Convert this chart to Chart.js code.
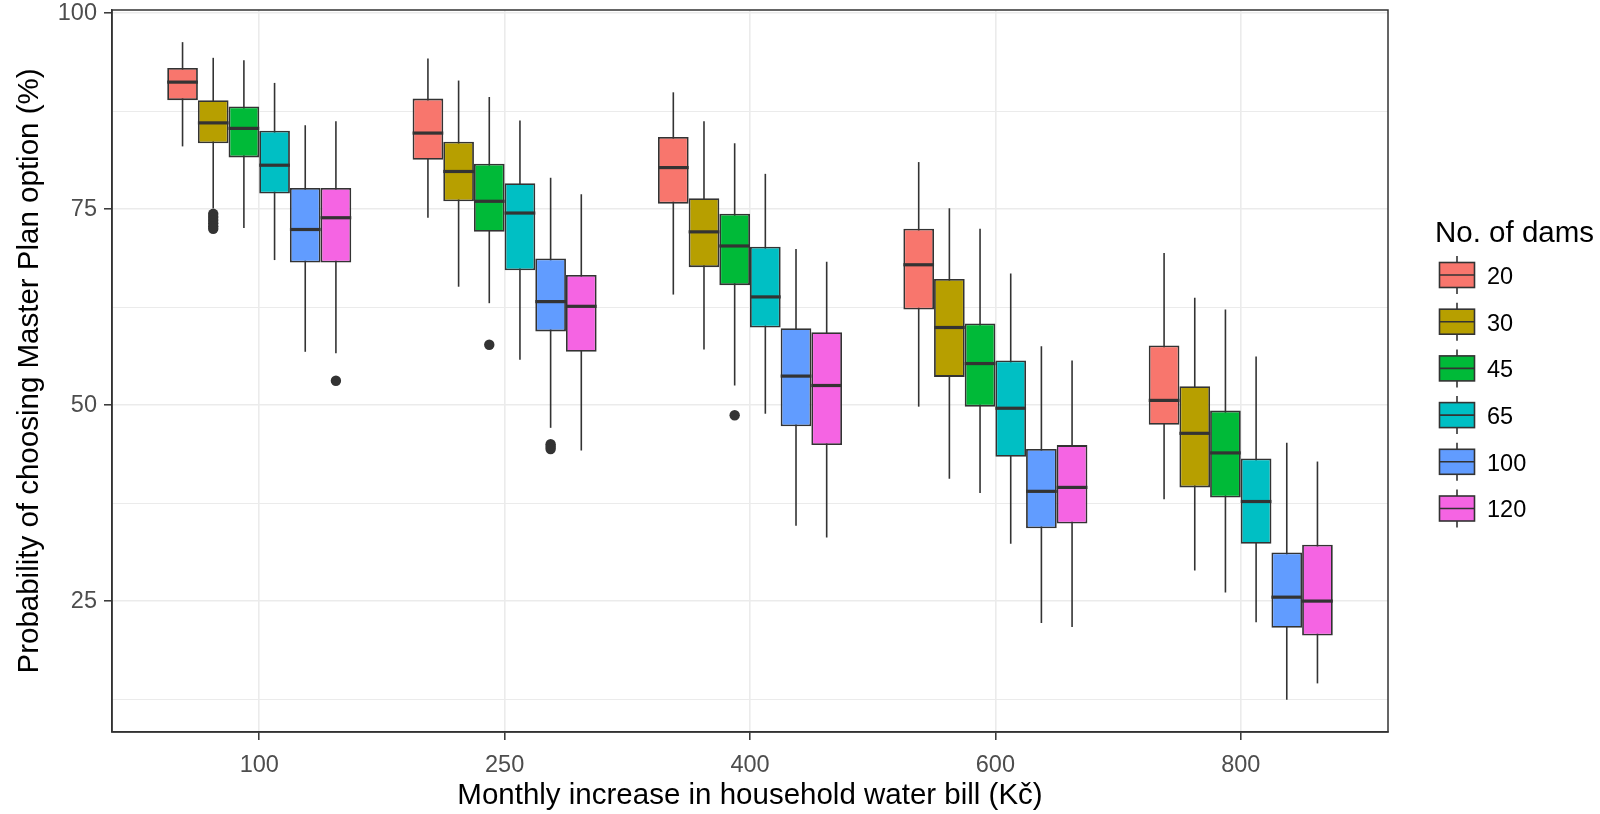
<!DOCTYPE html>
<html>
<head>
<meta charset="utf-8">
<script src="https://cdn.jsdelivr.net/npm/chart.js@4.4.1/dist/chart.umd.min.js"></script>
<style>
html, body { margin: 0; padding: 0; background: #ffffff; }
#wrap { width: 1600px; height: 814px; }
</style>
</head>
<body>
<div id="wrap"><canvas id="graphCanvas"></canvas></div>
<script>
// categories: monthly increase in water bill (Kč), and number of dams (series)
const bills = ['100', '250', '400', '600', '800'];
const dams = ['20', '30', '45', '65', '100', '120'];
const damColors = ['#F8766D', '#B79F00', '#00BA38', '#00BFC4', '#619CFF', '#F564E3'];
const yTicks = [12.5, 25, 37.5, 50, 62.5, 75, 87.5, 100];

// one row per dam count, one column per bill value
const whiskerHigh = [
    [96.3, 94.2, 89.9, 81.0, 69.4],
    [94.3, 91.4, 86.2, 75.1, 63.7],
    [94.0, 89.3, 83.4, 72.5, 62.2],
    [91.1, 86.3, 79.5, 66.8, 56.2],
    [85.7, 79.0, 69.9, 57.5, 45.2],
    [86.2, 76.9, 68.3, 55.7, 42.8]
];
const boxHigh = [
    [93.0, 89.1, 84.2, 72.5, 57.6],
    [88.9, 83.6, 76.4, 66.1, 52.4],
    [88.1, 80.8, 74.4, 60.4, 49.3],
    [85.0, 78.3, 70.2, 55.7, 43.2],
    [77.7, 68.7, 59.8, 44.4, 31.2],
    [77.7, 66.6, 59.3, 44.9, 32.2]
];
const medians = [
    [91.2, 84.7, 80.3, 67.9, 50.6],
    [86.0, 79.8, 72.1, 59.9, 46.4],
    [85.3, 76.0, 70.3, 55.3, 43.9],
    [80.6, 74.5, 63.8, 49.6, 37.7],
    [72.4, 63.2, 53.7, 39.0, 25.5],
    [73.9, 62.6, 52.5, 39.5, 25.0]
];
const boxLow = [
    [88.9, 81.3, 75.7, 62.2, 47.5],
    [83.4, 76.0, 67.6, 53.6, 39.5],
    [81.6, 72.1, 65.3, 49.8, 38.2],
    [77.0, 67.2, 59.9, 43.4, 32.3],
    [68.2, 59.4, 47.3, 34.3, 21.6],
    [68.2, 56.8, 44.9, 34.9, 20.6]
];
const whiskerLow = [
    [83.0, 73.9, 64.1, 49.8, 38.0],
    [75.1, 65.1, 57.1, 40.6, 28.9],
    [72.6, 63.0, 52.5, 38.8, 26.1],
    [68.5, 55.8, 48.9, 32.3, 22.3],
    [56.8, 47.1, 34.6, 22.2, 12.4],
    [56.6, 44.2, 33.1, 21.7, 14.5]
];
const outliers = [
    [[], [], [], [], []],
    [[74.4, 74.0, 73.6, 73.2, 72.8, 72.5], [], [], [], []],
    [[], [57.7], [48.7], [], []],
    [[], [], [], [], []],
    [[], [45.0, 44.7, 44.4], [], [], []],
    [[53.1], [], [], [], []]
];

Chart.defaults.font.family = "'Liberation Sans', Arial, Helvetica, sans-serif";

const lineCol = '#333333';

// whiskers behind the boxes, medians + outliers + panel border on top
const boxPlotParts = {
    id: 'boxPlotParts',
    beforeDatasetsDraw(chart) {
        const ctx = chart.ctx;
        const y = chart.scales.y;
        ctx.save();
        ctx.strokeStyle = lineCol;
        ctx.lineWidth = 1.6;
        chart.data.datasets.forEach((ds, i) => {
            chart.getDatasetMeta(i).data.forEach((bar, j) => {
                ctx.beginPath();
                ctx.moveTo(bar.x, y.getPixelForValue(whiskerLow[i][j]));
                ctx.lineTo(bar.x, y.getPixelForValue(whiskerHigh[i][j]));
                ctx.stroke();
            });
        });
        ctx.restore();
    },
    afterDatasetsDraw(chart) {
        const ctx = chart.ctx;
        const y = chart.scales.y;
        const area = chart.chartArea;
        ctx.save();
        chart.data.datasets.forEach((ds, i) => {
            chart.getDatasetMeta(i).data.forEach((bar, j) => {
                const py = y.getPixelForValue(medians[i][j]);
                ctx.strokeStyle = lineCol;
                ctx.lineWidth = 3.2;
                ctx.beginPath();
                ctx.moveTo(bar.x - bar.width / 2, py);
                ctx.lineTo(bar.x + bar.width / 2, py);
                ctx.stroke();
                ctx.fillStyle = lineCol;
                outliers[i][j].forEach(v => {
                    ctx.beginPath();
                    ctx.arc(bar.x, y.getPixelForValue(v), 5.2, 0, Math.PI * 2);
                    ctx.fill();
                });
            });
        });
        ctx.strokeStyle = lineCol;
        ctx.lineWidth = 1.5;
        ctx.strokeRect(area.left, area.top, area.right - area.left, area.bottom - area.top);
        ctx.restore();
    },
    afterDraw(chart) {
        // legend: "No. of dams" with small box glyphs
        const ctx = chart.ctx;
        ctx.save();
        ctx.fillStyle = '#000000';
        ctx.textAlign = 'left';
        ctx.textBaseline = 'middle';
        ctx.font = "29.5px 'Liberation Sans', Arial, sans-serif";
        ctx.fillText('No. of dams', 1435, 234);
        ctx.font = "23.5px 'Liberation Sans', Arial, sans-serif";
        chart.data.datasets.forEach((ds, i) => {
            const cy = 275 + i * 46.7;
            const cx = 1457;
            ctx.strokeStyle = lineCol;
            ctx.lineWidth = 1.6;
            ctx.beginPath();
            ctx.moveTo(cx, cy - 19);
            ctx.lineTo(cx, cy + 19);
            ctx.stroke();
            ctx.fillStyle = ds.backgroundColor;
            ctx.fillRect(cx - 17.5, cy - 12.5, 35, 25);
            ctx.strokeRect(cx - 17.5, cy - 12.5, 35, 25);
            ctx.beginPath();
            ctx.moveTo(cx - 17.5, cy);
            ctx.lineTo(cx + 17.5, cy);
            ctx.stroke();
            ctx.fillStyle = '#000000';
            ctx.fillText(ds.label, 1487, cy + 2.5);
        });
        ctx.restore();
    }
};

function showGraph() {
    const datasets = dams.map((d, i) => ({
        label: d,
        backgroundColor: damColors[i],
        borderColor: lineCol,
        borderWidth: 1.8,
        borderSkipped: false,
        data: bills.map((b, j) => ({ x: j + 1, y: [boxLow[i][j], boxHigh[i][j]] }))
    }));

    new Chart(document.getElementById('graphCanvas'), {
        type: 'bar',
        data: { datasets: datasets },
        plugins: [boxPlotParts],
        options: {
            responsive: true,
            maintainAspectRatio: false,
            animation: false,
            devicePixelRatio: 1,
            categoryPercentage: 0.75,
            barPercentage: 1.0,
            layout: { padding: { top: 10, right: 212, bottom: 0, left: 0 } },
            plugins: {
                legend: { display: false },
                tooltip: { enabled: false }
            },
            scales: {
                x: {
                    type: 'linear',
                    min: 0.4,
                    max: 5.6,
                    offset: false,
                    afterBuildTicks: scale => { scale.ticks = bills.map((b, j) => ({ value: j + 1 })); },
                    afterFit: scale => { scale.height = 82; scale.paddingLeft = 0; scale.paddingRight = 0; },
                    ticks: {
                        callback: (v, idx) => bills[idx],
                        color: '#4D4D4D',
                        font: { size: 23.5 },
                        padding: 11,
                        autoSkip: false,
                        maxRotation: 0
                    },
                    grid: {
                        offset: false,
                        color: '#EBEBEB',
                        lineWidth: 1.6,
                        tickLength: 8,
                        tickColor: lineCol,
                        tickWidth: 1.5
                    },
                    border: { display: true, color: lineCol, width: 1.5 },
                    title: {
                        display: true,
                        text: 'Monthly increase in household water bill (Kč)',
                        color: '#000000',
                        font: { size: 29.5 },
                        padding: { top: 0, bottom: 0 }
                    }
                },
                y: {
                    min: 8.3,
                    max: 100.4,
                    afterBuildTicks: scale => { scale.ticks = yTicks.map(v => ({ value: v })); },
                    afterFit: scale => { scale.width = 112; scale.paddingTop = 0; scale.paddingBottom = 0; },
                    ticks: {
                        callback: v => (v % 25 === 0 ? String(v) : ''),
                        color: '#4D4D4D',
                        font: { size: 23.5 },
                        padding: 7
                    },
                    grid: {
                        color: '#EBEBEB',
                        lineWidth: c => (c.tick && c.tick.value % 25 === 0 ? 1.6 : 1.1),
                        tickLength: 8,
                        tickColor: c => (c.tick && c.tick.value % 25 === 0 ? lineCol : 'rgba(0,0,0,0)'),
                        tickWidth: 1.5
                    },
                    border: { display: true, color: lineCol, width: 1.5 },
                    title: {
                        display: true,
                        text: 'Probability of choosing Master Plan option (%)',
                        color: '#000000',
                        font: { size: 29.5 },
                        padding: { top: 12, bottom: 0 }
                    }
                }
            }
        }
    });
}

showGraph();
</script>
</body>
</html>
